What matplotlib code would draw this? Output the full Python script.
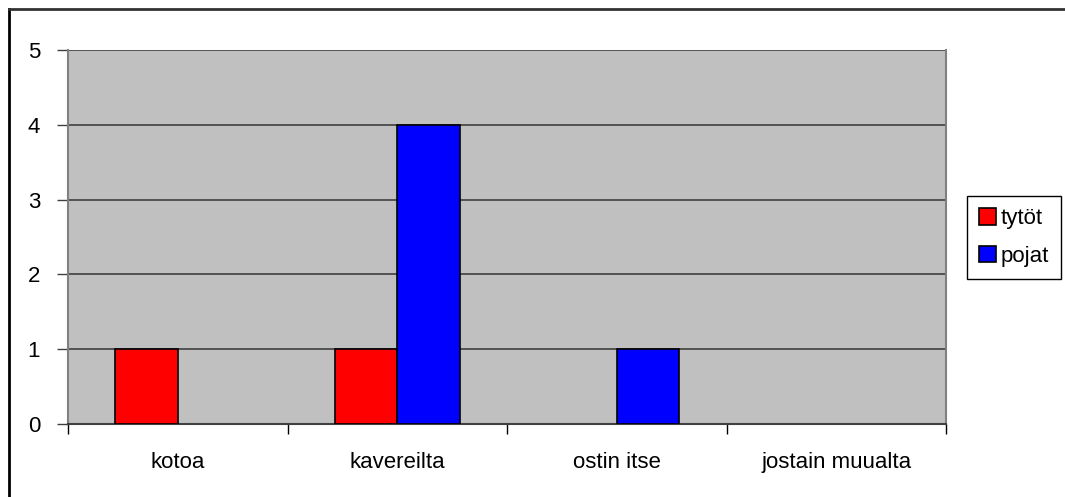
import matplotlib.pyplot as plt
from matplotlib.lines import Line2D
from matplotlib.patches import Patch
import numpy as np

categories = ["kotoa", "kavereilta", "ostin itse", "jostain muualta"]
tytot = [1, 1, 0, 0]
pojat = [0, 4, 1, 0]
series_names = ["tytöt", "pojat"]
series_colors = ["#ff0000", "#0000ff"]

W, H = 1065, 497
plt.rcParams["font.family"] = ["Liberation Sans", "DejaVu Sans"]

fig = plt.figure(figsize=(W / 100, H / 100), dpi=100)
ax = fig.add_axes([68 / W, 1 - 424 / H, (946 - 68) / W, (424 - 50) / H])
ax.set_facecolor("#c0c0c0")

x = np.arange(len(categories))
width = 1 / 3.5
b1 = ax.bar(x - width / 2, tytot, width, color=series_colors[0], edgecolor="black",
            linewidth=1.2, zorder=3)
b2 = ax.bar(x + width / 2, pojat, width, color=series_colors[1], edgecolor="black",
            linewidth=1.2, zorder=3)
# Excel draws nothing for zero-height bars
for p in list(b1) + list(b2):
    if p.get_height() == 0:
        p.set_visible(False)

ax.set_xlim(-0.5, len(categories) - 0.5)
ax.set_ylim(0, 5)
ax.set_yticks(range(6))
ax.yaxis.grid(True, color="#404040", linewidth=1.2, zorder=1)
ax.set_axisbelow(True)

ax.set_xticks(x)
ax.set_xticklabels(categories)
ax.set_xticks(np.arange(-0.5, len(categories)), minor=True)
ax.tick_params(axis="x", which="major", length=0, pad=20, labelsize=16)
ax.tick_params(axis="x", which="minor", length=7, width=1, color="black")
ax.tick_params(axis="y", length=8, width=1, color="#404040", labelsize=16, pad=12)

ax.spines["top"].set_visible(False)
ax.spines["left"].set_color("#808080")
ax.spines["right"].set_color("#808080")
ax.spines["left"].set_linewidth(1.5)
ax.spines["right"].set_linewidth(1.5)
ax.spines["bottom"].set_color("#404040")
ax.spines["bottom"].set_linewidth(1.5)

handles = [Patch(facecolor=c, edgecolor="black", linewidth=1.2) for c in series_colors]
leg = fig.legend(handles, series_names, loc="upper left",
                 bbox_to_anchor=(967 / W, 1 - 196 / H),
                 fontsize=16, handlelength=0.75, handleheight=0.75, handletextpad=0.2,
                 labelspacing=0.75, borderpad=0.55, fancybox=False, framealpha=1,
                 edgecolor="black", borderaxespad=0)
leg.get_frame().set_linewidth(1)

# outer chart border (only top and left visible in the crop)
fig.add_artist(Line2D([9 / W, 9 / W], [0, 1 - 9 / H], transform=fig.transFigure,
                      color="black", linewidth=2))
fig.add_artist(Line2D([9 / W, 1], [1 - 9 / H, 1 - 9 / H], transform=fig.transFigure,
                      color="#333333", linewidth=2))

fig.savefig("out.png", dpi=100)
